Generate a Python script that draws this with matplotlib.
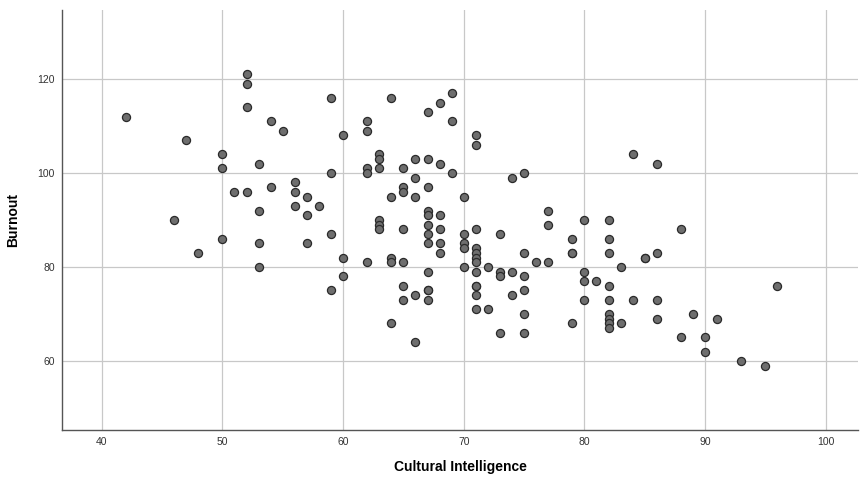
import matplotlib
matplotlib.use("Agg")
import matplotlib.pyplot as plt

# Cultural Intelligence (x) vs Burnout (y)
ci = [42, 46, 47, 48,
      50, 50, 50, 51, 52, 52, 52, 52,
      53, 53, 53, 53, 54, 54, 55,
      56, 56, 56, 57, 57, 57, 58,
      59, 59, 59, 59, 60, 60, 60,
      62, 62, 62, 62, 62,
      63, 63, 63, 63, 63, 63,
      64, 64, 64, 64, 64,
      65, 65, 65, 65, 65, 65, 65,
      66, 66, 66, 66, 66,
      67, 67, 67, 67, 67, 67, 67, 67, 67, 67, 67, 67,
      68, 68, 68, 68, 68, 68,
      69, 69, 69,
      70, 70, 70, 70, 70,
      71, 71, 71, 71, 71, 71, 71, 71, 71, 71, 71, 71,
      72, 72, 73, 73, 73, 73, 74, 74, 74,
      75, 75, 75, 75, 75, 75, 76, 77, 77, 77,
      79, 79, 79, 79, 80, 80, 80, 80, 81,
      82, 82, 82, 82, 82, 82, 82, 82, 82,
      83, 83, 84, 84, 85, 85, 86, 86, 86, 86,
      88, 88, 89, 90, 90, 91, 93, 95, 96]
burnout = [112, 90, 107, 83,
           104, 101, 86, 96, 121, 119, 114, 96,
           102, 92, 85, 80, 111, 97, 109,
           98, 96, 93, 95, 91, 85, 93,
           116, 100, 87, 75, 108, 82, 78,
           111, 109, 101, 100, 81,
           104, 103, 101, 90, 89, 88,
           116, 95, 82, 81, 68,
           101, 97, 96, 88, 81, 76, 73,
           103, 99, 95, 74, 64,
           113, 103, 97, 92, 91, 89, 87, 85, 79, 75, 75, 73,
           115, 102, 91, 88, 85, 83,
           117, 111, 100,
           95, 87, 85, 84, 80,
           108, 106, 88, 84, 83, 82, 81, 79, 76, 76, 74, 71,
           80, 71, 87, 79, 78, 66, 99, 79, 74,
           100, 83, 78, 75, 70, 66, 81, 92, 89, 81,
           86, 83, 83, 68, 90, 79, 77, 73, 77,
           90, 86, 83, 76, 73, 70, 69, 68, 67,
           80, 68, 104, 73, 82, 82, 102, 83, 73, 69,
           88, 65, 70, 65, 62, 69, 60, 59, 76]

x_ticks = [40, 50, 60, 70, 80, 90, 100]
y_ticks = [60, 80, 100, 120]

plt.rcParams['font.family'] = ['Liberation Sans', 'DejaVu Sans']

fig = plt.figure(figsize=(8.6, 4.78), dpi=100)
ax = fig.add_axes([0.072, 0.1004, 0.926, 0.8787])

ax.scatter(ci, burnout, s=34, facecolor='#6e6e6e', edgecolor='#2a2a2a',
           linewidth=0.9, zorder=3)

ax.set_xlim(36.7, 102.7)
ax.set_ylim(45.3, 134.7)
ax.set_xticks(x_ticks)
ax.set_yticks(y_ticks)
ax.grid(True, color='#c8c8c8', linewidth=0.9, zorder=0)

for side in ['top', 'right']:
    ax.spines[side].set_visible(False)
for side in ['left', 'bottom']:
    ax.spines[side].set_color('#555555')
    ax.spines[side].set_linewidth(1.0)

ax.tick_params(length=0, labelsize=7.5, colors='#333333', pad=5)
ax.set_xlabel('Cultural Intelligence', fontsize=10, fontweight='bold')
ax.set_ylabel('Burnout', fontsize=10, fontweight='bold')
ax.xaxis.set_label_coords(0.5, -0.072)
ax.yaxis.set_label_coords(-0.053, 0.5)

fig.savefig('out.png', dpi=100)
